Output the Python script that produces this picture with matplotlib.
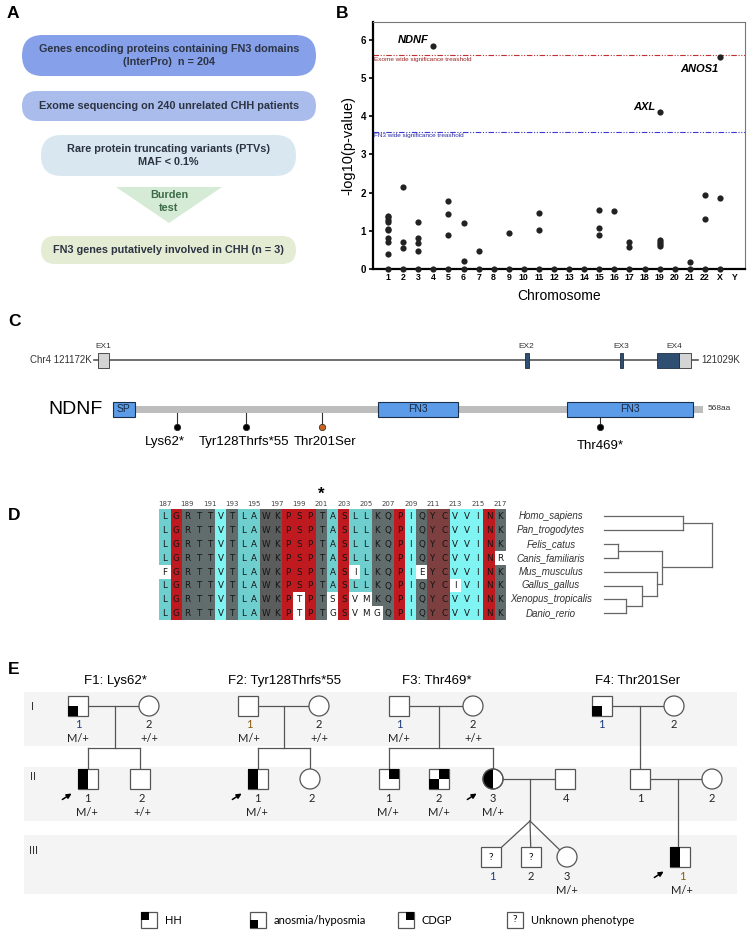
import matplotlib
matplotlib.use("Agg")
import matplotlib.pyplot as plt
from matplotlib.patches import FancyBboxPatch, Rectangle, Circle, Polygon, Wedge

# ---------------- data ----------------
# panel A
flow_steps = [["Genes encoding proteins containing FN3 domains", "(InterPro)  n = 204"],
              ["Exome sequencing on 240 unrelated CHH patients"],
              ["Rare protein truncating variants (PTVs)", "MAF < 0.1%"],
              ["FN3 genes putatively involved in CHH (n = 3)"]]
flow_colors = ["#86a1ea", "#a9bcec", "#d9e8f0", "#e5ecd4"]
burden_text = ["Burden", "test"]

# panel B
chr_names = [str(i) for i in range(1, 23)] + ["X", "Y"]
chr_scores = [
    [1.40, 1.35, 1.28, 1.22, 1.05, 1.02, 0.80, 0.70, 0.38, 0],  # 1
    [2.15, 0.70, 0.55, 0],        # 2
    [1.22, 0.82, 0.68, 0.48, 0],  # 3
    [5.85, 0],                    # 4
    [1.77, 1.43, 0.90, 0],        # 5
    [1.20, 0.20, 0],              # 6
    [0.47, 0],                    # 7
    [0],                          # 8
    [0.95, 0],                    # 9
    [0],                          # 10
    [1.47, 1.02, 0],              # 11
    [0], [0], [0],                # 12-14
    [1.55, 1.07, 0.88, 0],        # 15
    [1.52, 0],                    # 16
    [0.70, 0.57, 0],              # 17
    [0],                          # 18
    [4.12, 0.77, 0.72, 0.65, 0.60, 0],  # 19
    [0],                          # 20
    [0.18, 0],                    # 21
    [1.93, 1.32, 0],              # 22
    [5.55, 1.85, 0],              # X
    [],                           # Y
]
hit_genes = ["NDNF", "AXL", "ANOS1"]
hit_chr = ["4", "19", "X"]
hit_score = [5.85, 4.12, 5.55]
exome_threshold = 5.6
fn3_threshold = 3.6

# panel C
gene_span_kb = [121172, 121029]
exons = ["EX1", "EX2", "EX3", "EX4"]
exon_coding_kb = [None, (102.4, 103.3), (125.2, 125.9), (134.2, 139.5)]
exon_utr_kb = [(0.0, 2.6), None, None, (139.5, 142.3)]
protein_len = 568
domains = ["SP", "FN3", "FN3"]
domain_aa = [(1, 21), (256, 332), (438, 558)]
variants = ["Lys62*", "Tyr128Thrfs*55", "Thr201Ser", "Thr469*"]
variant_aa = [62, 128, 201, 469]
variant_colors = ["black", "black", "#c8641e", "black"]

# panel D
species = ["Homo_sapiens", "Pan_trogodytes", "Felis_catus", "Canis_familiaris",
           "Mus_musculus", "Gallus_gallus", "Xenopus_tropicalis", "Danio_rerio"]
sequences = ["LGRTTVTLAWKPSPTASLLKQPIQYCVVINK",
             "LGRTTVTLAWKPSPTASLLKQPIQYCVVINK",
             "LGRTTVTLAWKPSPTASLLKQPIQYCVVINK",
             "LGRTTVTLAWKPSPTASLLKQPIQYCVVINR",
             "FGRTTVTLAWKPSPTASILKQPIEYCVVINK",
             "LGRTTVTLAWKPSPTASLLKQPIQYCIVINK",
             "LGRTTVTLAWKPTPTSSVMKQPIQYCVVINK",
             "LGRTTVTLAWKPTPTGSVMGQPIQYCVVINK"]
first_pos = 187
column_class = "tr" + "ggg" + "b" + "g" + "tt" + "kk" + "rrr" + "g" + "t" + "r" + "tt" + "gg" + "r" + "b" + "g" + "mm" + "bbb" + "r" + "g"
class_colors = {"t": "#6fcfcf", "b": "#80f3f3", "r": "#be1a1f", "g": "#616d6d",
                "k": "#5b5d5d", "m": "#7d3f3f"}

# panel E
fam_titles = ["F1: Lys62*", "F2: Tyr128Thrfs*55", "F3: Thr469*", "F4: Thr201Ser"]
legend_items = ["HH", "anosmia/hyposmia", "CDGP", "Unknown phenotype"]

# ---------------- figure ----------------
W, H = 747, 935
fig = plt.figure(figsize=(W / 100, H / 100), dpi=100)
ax = fig.add_axes([0, 0, 1, 1])
ax.set_xlim(0, W)
ax.set_ylim(H, 0)
ax.axis("off")
SANS = "Liberation Sans"
plt.rcParams["font.family"] = SANS


def panel_label(x, y, s):
    ax.text(x, y, s, fontsize=12.5, fontweight="bold", ha="left", va="center")


# ---- A ----
panel_label(7, 14, "A")
boxes = [(22, 35, 294, 41), (22, 91, 294, 30), (41, 135, 255, 41), (41, 236, 255, 28)]
for (x, y, w, h), col, lines in zip(boxes, flow_colors, flow_steps):
    ax.add_patch(FancyBboxPatch((x, y), w, h, boxstyle="round,pad=0,rounding_size=%g" % (h / 2),
                                fc=col, ec="none"))
    n = len(lines)
    for i, t in enumerate(lines):
        yy = y + h / 2 + (i - (n - 1) / 2) * 13.5
        ax.text(x + w / 2, yy, t, ha="center", va="center", fontsize=7.8, fontweight="bold", color="#2c3342")
ax.add_patch(Polygon([(116, 187), (222, 187), (169, 223)], closed=True, fc="#d6ebd6", ec="none"))
for i, t in enumerate(burden_text):
    ax.text(169, 195 + i * 13, t, ha="center", va="center", fontsize=7.8, fontweight="bold", color="#3e6b47")

# ---- B ----
panel_label(336, 14, "B")
bx = fig.add_axes([373 / W, 1 - 269 / H, 372 / W, 247 / H])
for i, scores in enumerate(chr_scores):
    if scores:
        bx.scatter([i + 1] * len(scores), scores, s=20, color="#222222", zorder=3, clip_on=False, lw=0)
bx.set_xlim(0, len(chr_names) + 0.66)
bx.set_ylim(0, 6.47)
bx.set_xticks(range(1, len(chr_names) + 1))
bx.set_xticklabels(chr_names, fontsize=6.3, fontweight="bold")
bx.set_yticks(range(0, 7))
bx.set_yticklabels([str(v) for v in range(7)], fontsize=7, fontweight="bold")
bx.tick_params(axis="x", length=0, pad=3)
bx.tick_params(axis="y", length=3, width=1.2, pad=2)
for side in ["left", "bottom"]:
    bx.spines[side].set_linewidth(1.6)
for side in ["top", "right"]:
    bx.spines[side].set_linewidth(0.8)
    bx.spines[side].set_color("#777777")
bx.set_ylabel("-log10(p-value)", fontsize=10.5, labelpad=4)
bx.set_xlabel("Chromosome", fontsize=10, labelpad=5)
bx.axhline(exome_threshold, color="#c03030", lw=0.8, ls=(0, (5, 1.5, 1, 1.5, 1, 1.5)))
bx.axhline(fn3_threshold, color="#3a3ad0", lw=0.8, ls=(0, (5, 1.5, 1, 1.5, 1, 1.5)))
bx.text(0.05, exome_threshold - 0.05, "Exome wide significance treashold", color="#9a2222",
        fontsize=4.6, va="top", ha="left")
bx.text(0.05, fn3_threshold - 0.05, "FN3 wide significance treashold", color="#2a2aa0",
        fontsize=4.6, va="top", ha="left")
hit_offsets = [(-0.3, 0.02, "right", "bottom"), (-0.25, 0.0, "right", "bottom"),
               (-0.1, -0.17, "right", "top")]
for g, c, s, (dx, dy, ha, va) in zip(hit_genes, hit_chr, hit_score, hit_offsets):
    bx.text(chr_names.index(c) + 1 + dx, s + dy, g, fontsize=8, fontweight="bold", fontstyle="italic",
            ha=ha, va=va)

# ---- C ----
panel_label(8, 322, "C")
g_x0, g_x1, g_y = 98, 694, 360
kb_px = (g_x1 - g_x0) / (gene_span_kb[0] - gene_span_kb[1])
ax.plot([g_x0 - 4, g_x1 + 4], [g_y, g_y], color="#555555", lw=1.2, zorder=1)
ax.text(g_x0 - 6, g_y, "Chr4 %dK" % gene_span_kb[0], ha="right", va="center", fontsize=7, color="#333333")
ax.text(g_x1 + 7, g_y, "%dK" % gene_span_kb[1], ha="left", va="center", fontsize=7, color="#333333")
for name, cod, utr in zip(exons, exon_coding_kb, exon_utr_kb):
    xs = []
    if utr:
        ax.add_patch(Rectangle((g_x0 + utr[0] * kb_px, g_y - 7.5), (utr[1] - utr[0]) * kb_px, 15,
                               fc="#d4d4d4", ec="#333333", lw=0.6, zorder=2))
        xs += list(utr)
    if cod:
        ax.add_patch(Rectangle((g_x0 + cod[0] * kb_px, g_y - 7.5), (cod[1] - cod[0]) * kb_px, 15,
                               fc="#2e4e72", ec="#1e2e44", lw=0.6, zorder=2))
        xs += list(cod)
    ax.text(g_x0 + (min(xs) + max(xs)) / 2 * kb_px, g_y - 10, name, ha="center", va="bottom",
            fontsize=6, color="#333333")

p_x0, p_x1, p_y = 113, 703, 409
aa_px = (p_x1 - p_x0) / protein_len
ax.add_patch(Rectangle((p_x0, p_y - 3.5), p_x1 - p_x0, 7, fc="#bdbdbd", ec="none", zorder=1))
ax.text(p_x0 - 10, p_y, "NDNF", ha="right", va="center", fontsize=14)
ax.text(p_x1 + 5, p_y, "%daa" % protein_len, ha="left", va="center", fontsize=6, color="#333333")
for d, (a0, a1) in zip(domains, domain_aa):
    x0 = p_x0 + (a0 - 1) * aa_px
    ax.add_patch(Rectangle((x0, p_y - 7.5), (a1 - a0 + 1) * aa_px, 15, fc="#5b9be8", ec="#1c2f4a",
                           lw=0.8, zorder=2))
    ax.text(x0 + (a1 - a0 + 1) * aa_px / 2, p_y, d, ha="center", va="center", fontsize=7.5, color="#1a2a40",
            zorder=3)
lab_dx = [-13, -2, 3, 0]
lab_dy = [0, 0, 0, 4]
for v, a, c, dx, dy in zip(variants, variant_aa, variant_colors, lab_dx, lab_dy):
    x = p_x0 + a * aa_px
    ax.plot([x, x], [p_y + 3.5, p_y + 18], color="#333333", lw=0.8, zorder=1)
    ax.plot([x], [p_y + 18], "o", ms=4.6, color=c, mec="#222222", mew=0.5, zorder=3)
    ax.text(x + dx, p_y + 27 + dy, v, ha="center", va="top", fontsize=9.5)

# ---- D ----
panel_label(8, 516, "D")
col_w, row_h = 11.17, 13.9
ax0, ay0 = 165, 516
for r, seq in enumerate(sequences):
    for c, aa in enumerate(seq):
        xc, yc = ax0 + c * col_w, ay0 + r * row_h
        same = aa == sequences[0][c]
        fc = class_colors[column_class[c]] if same else "white"
        ax.add_patch(Rectangle((xc - col_w / 2, yc - row_h / 2), col_w, row_h, fc=fc, ec="none"))
        ax.text(xc, yc + 0.5, aa, ha="center", va="center", fontsize=6.3, color="#151515",
                family="DejaVu Sans")
for c in range(0, len(sequences[0]), 2):
    ax.text(ax0 + c * col_w, ay0 - 9, str(first_pos + c), ha="center", va="bottom", fontsize=5,
            color="#444444", family="DejaVu Sans")
ax.text(ax0 + (201 - first_pos) * col_w, ay0 - 22, "*", ha="center", va="center", fontsize=12,
        fontweight="bold")
for r, sp in enumerate(species):
    ax.text(551, ay0 + r * row_h, sp, ha="center", va="center", fontsize=7, fontstyle="italic",
            color="#333333")
# tree
tree_lc = "#666666"
leaf_x0 = 604


def leaf_y(i):
    return ay0 + i * row_h


def hline(x0, x1, y):
    ax.plot([x0, x1], [y, y], color=tree_lc, lw=0.9)


def vline(x, y0, y1):
    ax.plot([x, x], [y0, y1], color=tree_lc, lw=0.9)


def join(a, b, x):
    (xa, ya), (xb, yb) = a, b
    hline(xa, x, ya)
    hline(xb, x, yb)
    vline(x, ya, yb)
    return (x, (ya + yb) / 2)


L = [(leaf_x0, leaf_y(i)) for i in range(8)]
n_xd = join(L[6], L[7], 626)
n_gxd = join(L[5], n_xd, 642)
n_mgxd = join(L[4], n_gxd, 657)
n_fc = join(L[2], L[3], 618)
n_low = join(n_fc, n_mgxd, 662)
n_hp = join(L[0], L[1], 683)
root = join(n_hp, n_low, 712)

# ---- E ----
panel_label(8, 669, "E")
bands = [(692, 746), (767, 821), (835, 894)]
band_lab_y = [707, 777, 850]
for (y0, y1), lab, ly in zip(bands, ["I", "II", "III"], band_lab_y):
    ax.add_patch(Rectangle((24, y0), 713, y1 - y0, fc="#f4f4f4", ec="none", zorder=0))
    ax.text(33, ly, lab, ha="center", va="center", fontsize=8, color="#333333", family="Lato")
for t, x in zip(fam_titles, [115, 284, 437, 638]):
    ax.text(x, 681, t, ha="center", va="center", fontsize=9.5)

LC = "#555555"
S = 20


def line(xs, ys):
    ax.plot(xs, ys, color=LC, lw=0.9, zorder=1)


def square(xc, yc, quads=(), q=False):
    x0, y0 = xc - S / 2, yc - S / 2
    ax.add_patch(Rectangle((x0, y0), S, S, fc="white", ec="#555555", lw=0.9, zorder=2))
    off = {"tl": (0, 0), "tr": (S / 2, 0), "bl": (0, S / 2), "br": (S / 2, S / 2)}
    for k in quads:
        dx, dy = off[k]
        ax.add_patch(Rectangle((x0 + dx, y0 + dy), S / 2, S / 2, fc="black", ec="none", zorder=3))
    if q:
        ax.text(xc, yc, "?", ha="center", va="center", fontsize=7.5, family="Lato", zorder=4)


def circle(xc, yc, left=False):
    ax.add_patch(Circle((xc, yc), S / 2, fc="white", ec="#555555", lw=0.9, zorder=2))
    if left:
        ax.add_patch(Wedge((xc, yc), S / 2, 90, 270, fc="black", ec="none", zorder=3))
        ax.add_patch(Circle((xc, yc), S / 2, fc="none", ec="#555555", lw=0.9, zorder=4))


def labels(xc, y, num, geno=None, numcol="#222222"):
    ax.text(xc, y, num, ha="center", va="center", fontsize=8, family="Lato", color=numcol)
    if geno:
        ax.text(xc, y + 14, geno, ha="center", va="center", fontsize=8, family="Lato", color="#222222")


def arrow(xc, yc):
    ax.annotate("", xy=(xc - 14, yc + 13), xytext=(xc - 28, yc + 22),
                arrowprops=dict(arrowstyle="-|>", color="black", lw=1.1, mutation_scale=7))


yI, yII, yIII = 706, 779, 857
NAVY = "#1f3a7a"
BROWN = "#8a5a10"
# F1
line([78, 149], [yI, yI]); line([115, 115], [yI, 748]); line([88, 140], [748, 748])
line([88, 88], [748, yII]); line([140, 140], [748, yII])
square(78, yI, ["bl"]); circle(149, yI)
square(88, yII, ["tl", "bl"]); square(140, yII)
labels(78, 724, "1", "M/+", NAVY); labels(149, 725, "2", "+/+")
labels(87, 799, "1", "M/+"); labels(142, 799, "2", "+/+")
arrow(88, yII)
# F2
line([248, 319], [yI, yI]); line([284, 284], [yI, 748]); line([258, 310], [748, 748])
line([258, 258], [748, yII]); line([310, 310], [748, yII])
square(248, yI); circle(319, yI)
square(258, yII, ["tl", "bl"]); circle(310, yII)
labels(249, 724, "1", "M/+", BROWN); labels(319, 725, "2", "+/+")
labels(257, 799, "1", "M/+"); labels(312, 799, "2")
arrow(258, yII)
# F3
line([399, 473], [yI, yI]); line([439, 439], [yI, 748]); line([389, 493], [748, 748])
line([389, 389], [748, yII]); line([493, 493], [748, yII])
line([493, 565], [yII, yII]); line([530, 530], [yII, 821])
line([530, 491], [821, yIII]); line([530, 531], [821, yIII]); line([530, 567], [821, yIII])
square(399, yI); circle(473, yI)
square(389, yII, ["tr"]); square(439, yII, ["tr", "bl"]); circle(493, yII, left=True); square(565, yII)
square(491, yIII, q=True); square(531, yIII, q=True); circle(567, yIII)
labels(399, 724, "1", "M/+", NAVY); labels(473, 725, "2", "+/+")
labels(388, 799, "1", "M/+"); labels(439, 799, "2", "M/+"); labels(493, 799, "3", "M/+")
labels(566, 799, "4")
labels(492, 876, "1", numcol=NAVY); labels(531, 876, "2"); labels(567, 876, "3", "M/+")
arrow(493, yII)
# F4
line([602, 674], [yI, yI]); line([640, 640], [yI, yII])
line([640, 712], [yII, yII]); line([678, 678], [yII, yIII])
square(602, yI, ["bl"]); circle(674, yI)
square(640, yII); circle(712, yII)
square(680, yIII, ["tl", "bl"])
labels(601, 724, "1", numcol=NAVY); labels(674, 725, "2")
labels(640, 799, "1"); labels(712, 799, "2")
labels(682, 876, "1", "M/+", BROWN)
arrow(680, yIII)

# legend
leg_y = 920
S_leg = 16
leg_x = [141, 250, 398, 507]
leg_quads = [["tl"], ["bl"], ["tr"], []]
for lab, x, qd in zip(legend_items, leg_x, leg_quads):
    ax.add_patch(Rectangle((x, leg_y - S_leg / 2), S_leg, S_leg, fc="white", ec="#555555", lw=0.9))
    off = {"tl": (0, 0), "tr": (S_leg / 2, 0), "bl": (0, S_leg / 2)}
    for k in qd:
        dx, dy = off[k]
        ax.add_patch(Rectangle((x + dx, leg_y - S_leg / 2 + dy), S_leg / 2, S_leg / 2, fc="black", ec="none"))
    if not qd:
        ax.text(x + S_leg / 2, leg_y, "?", ha="center", va="center", fontsize=7.5, family="Lato")
    ax.text(x + S_leg + 8, leg_y, lab, ha="left", va="center", fontsize=8, family="Lato")

fig.savefig("out.png", dpi=100)
